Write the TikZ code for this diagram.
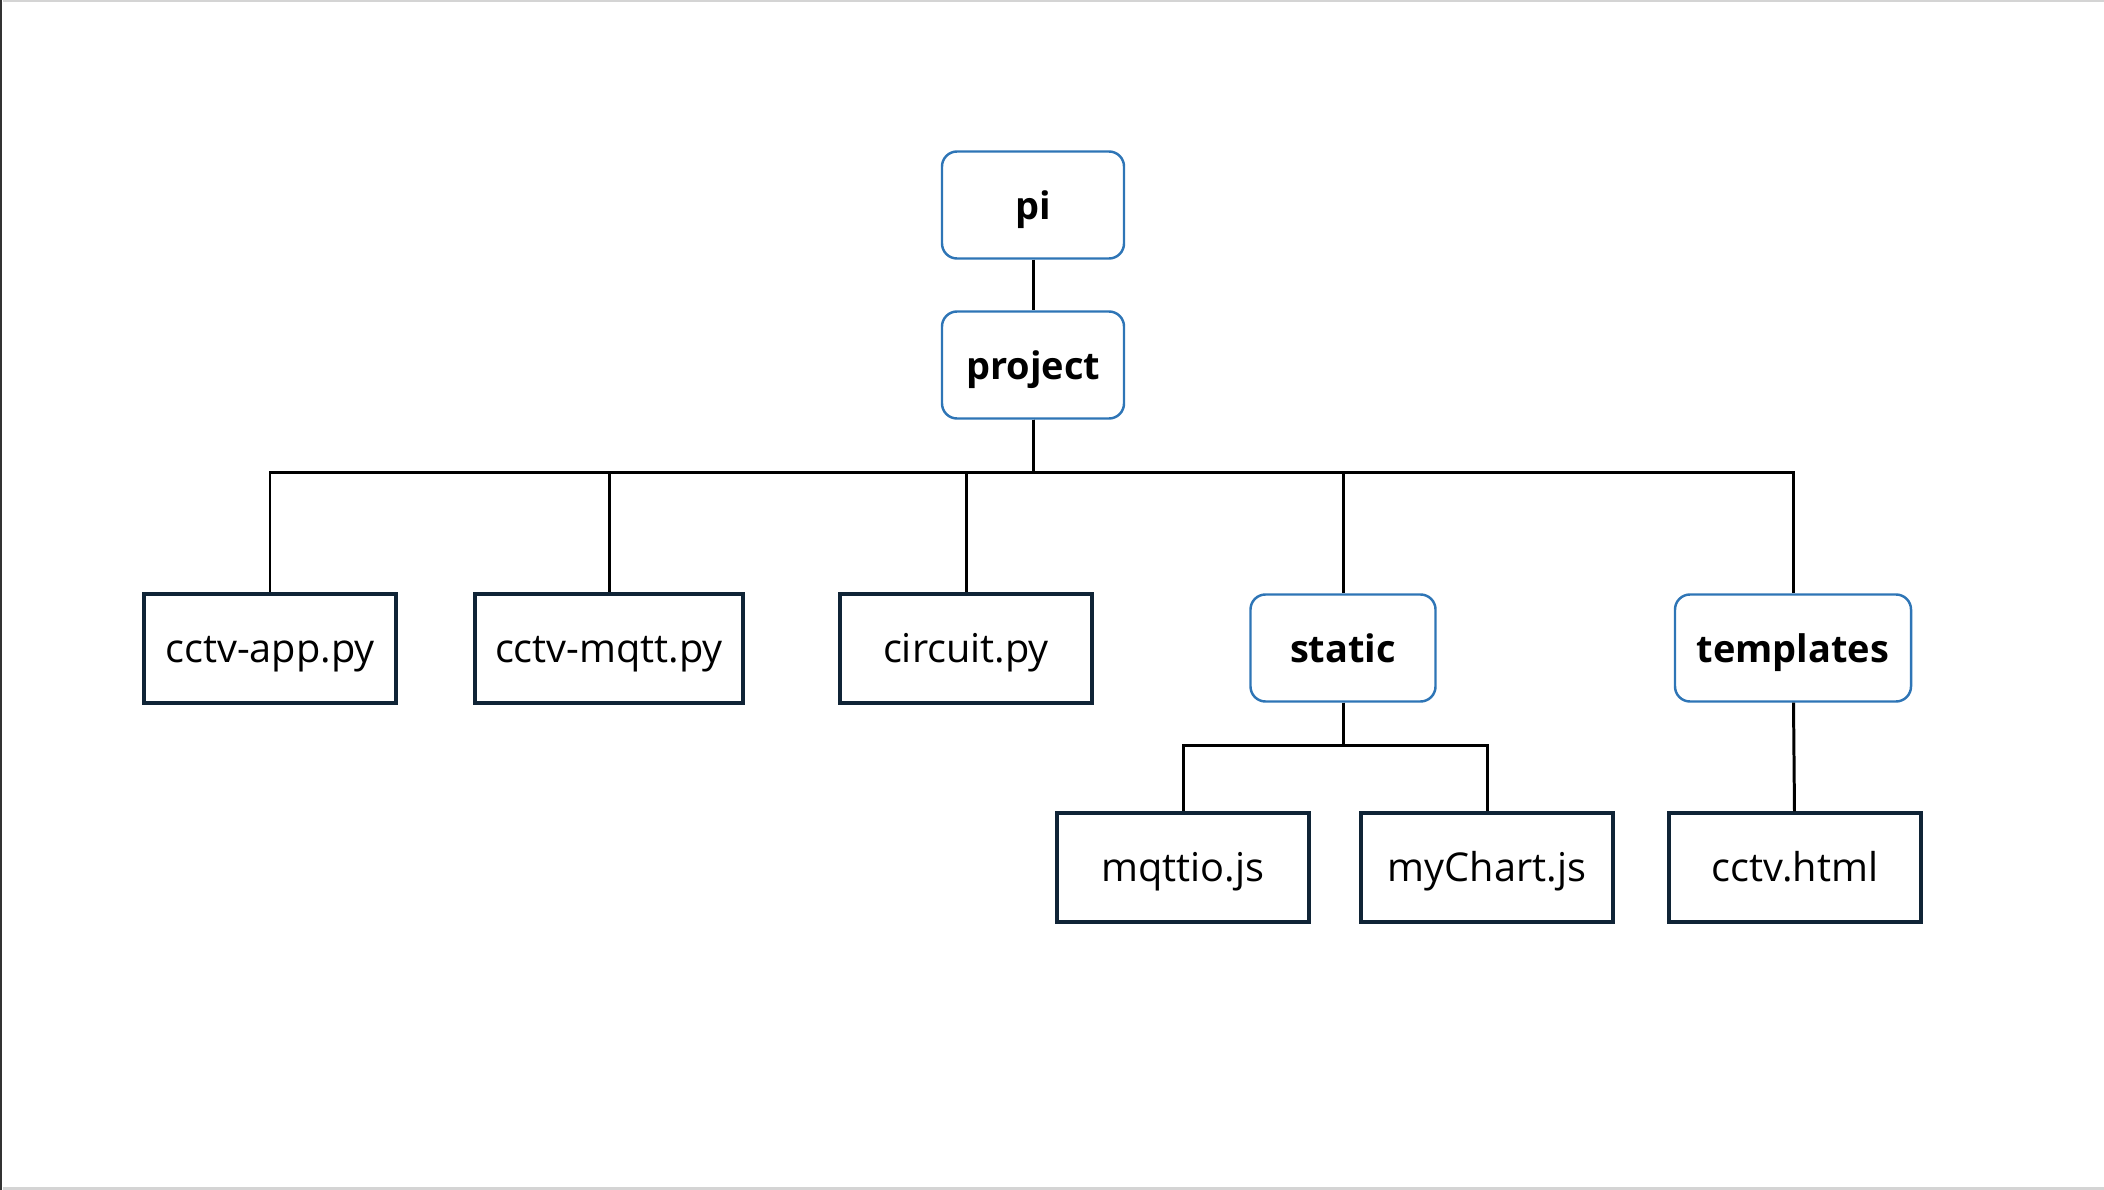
\documentclass[tikz,border=0pt]{standalone}
\usepackage{fontspec}
\setmainfont{Open Sans}
\usetikzlibrary{positioning}

\definecolor{dirblue}{RGB}{46,117,182}
\definecolor{filenavy}{RGB}{16,36,54}

\tikzset{
  dirbox/.style={draw=dirblue, line width=0.7pt, rounded corners=0.15cm,
    minimum width=1.82cm, minimum height=1.07cm, inner sep=2pt,
    text height=0.95em, text depth=0.13em,
    font=\fontsize{10.8}{13}\selectfont\bfseries},
  filebox/.style={draw=filenavy, line width=0.9pt,
    minimum width=2.52cm, minimum height=1.09cm, inner sep=2pt,
    text height=0.95em, text depth=0.13em,
    font=\fontsize{11.3}{13}\selectfont},
  branch/.style={line width=0.85pt}
}

\begin{document}
\begin{tikzpicture}
    \useasboundingbox (0,0) rectangle (21.04,-11.90);
    % page frame
    \fill[black!80] (0,0) rectangle (0.025,-11.90);
    \fill[black!17] (0.03,0) rectangle (21.04,-0.02);
    \fill[black!17] (0.03,-11.87) rectangle (21.04,-11.90);

    \node[dirbox] (pi) at (10.33,-2.05) {pi};
    \node[dirbox] (project) at (10.33,-3.65) {project};

    \foreach \name/\x/\w/\text in {app/2.70/2.52/cctv-app.py,
        mqtt/6.09/2.68/cctv-mqtt.py, circuit/9.66/2.52/circuit.py}
    {
        \node[filebox, minimum width=\w cm] (\name) at (\x,-6.485) {\text};
    }
    \node[dirbox, minimum width=1.85cm] (static) at (13.43,-6.48) {static};
    \node[dirbox, minimum width=2.36cm] (templates) at (17.93,-6.48) {templates};

    \foreach \name/\x/\text in {mqttio/11.83/mqttio.js, mychart/14.87/myChart.js,
        html/17.95/cctv.html}
    {
        \node[filebox] (\name) at (\x,-8.675) {\text};
    }

    \draw[branch] (pi) -- (project);
    \foreach \child in {app,mqtt,circuit,static,templates}
        \draw[branch] (project.south) -- ++(0,-0.53) -| (\child.north);
    \foreach \child in {mqttio,mychart}
        \draw[branch] (static.south) -- ++(0,-0.43) -| (\child.north);
    \draw[branch] (templates) -- (html);
\end{tikzpicture}
\end{document}
